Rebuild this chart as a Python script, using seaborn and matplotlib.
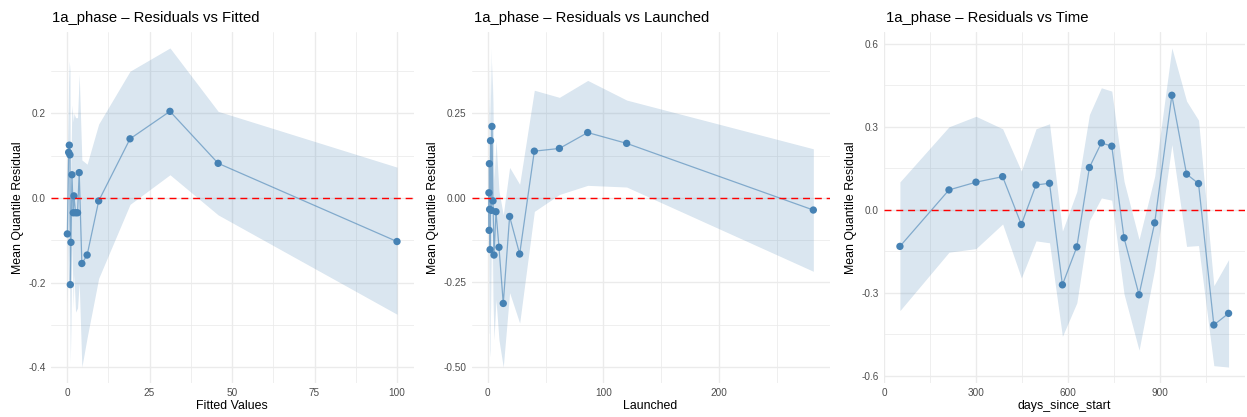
import numpy as np
import pandas as pd
import matplotlib
matplotlib.use("Agg")
import matplotlib.pyplot as plt
from matplotlib.ticker import MultipleLocator, AutoMinorLocator, FormatStrFormatter
import seaborn as sns

# ---------------- data ----------------
fit_x = [0.1, 0.5, 0.7, 0.9, 1.0, 1.2, 1.5, 1.9, 2.1, 2.6, 3.2, 3.7, 4.5, 6.1, 9.6, 19.1, 31.2, 45.8, 100.0]
fit_y = [-0.085, 0.108, 0.125, 0.102, -0.205, -0.105, 0.055, -0.035, 0.005, -0.035, -0.035, 0.060, -0.155, -0.135, -0.007, 0.140, 0.205, 0.082, -0.103]
fit_lo = [-0.25, -0.05, -0.10, -0.28, -0.39, -0.30, -0.10, -0.26, -0.18, -0.27, -0.26, -0.20, -0.40, -0.33, -0.19, -0.015, 0.055, -0.040, -0.275]
fit_hi = [0.08, 0.28, 0.324, 0.30, 0.02, 0.10, 0.22, 0.18, 0.20, 0.19, 0.19, 0.293, 0.09, 0.08, 0.175, 0.30, 0.355, 0.205, 0.073]

lau_x = [1.0, 1.2, 1.4, 1.6, 2.0, 2.4, 3.2, 3.6, 4.5, 5.4, 7.1, 9.7, 13.4, 18.9, 27.6, 40.3, 62.0, 86.5, 120.2, 281.8]
lau_y = [0.015, -0.096, 0.101, -0.034, -0.153, 0.169, -0.037, 0.211, -0.009, -0.169, -0.041, -0.146, -0.312, -0.055, -0.166, 0.138, 0.146, 0.193, 0.161, -0.036]
lau_lo = [-0.40, -0.40, -0.20, -0.45, -0.47, -0.10, -0.35, 0.00, -0.30, -0.42, -0.30, -0.42, -0.50, -0.28, -0.37, -0.04, 0.01, 0.037, 0.032, -0.217]
lau_hi = [0.30, 0.25, 0.40, 0.30, 0.20, 0.443, 0.30, 0.40, 0.28, 0.05, 0.17, 0.02, -0.05, 0.09, 0.04, 0.318, 0.297, 0.347, 0.289, 0.145]

day_x = [52, 212, 300, 387, 448, 496, 540, 582, 629, 670, 709, 743, 783, 832, 883, 939, 987, 1026, 1076, 1124]
day_y = [-0.133, 0.071, 0.099, 0.119, -0.054, 0.089, 0.095, -0.272, -0.135, 0.152, 0.241, 0.229, -0.102, -0.308, -0.048, 0.413, 0.128, 0.094, -0.417, -0.375]
day_lo = [-0.365, -0.154, -0.141, -0.052, -0.247, -0.113, -0.120, -0.458, -0.337, -0.040, 0.042, 0.034, -0.305, -0.508, -0.214, 0.235, -0.133, -0.130, -0.564, -0.569]
day_hi = [0.100, 0.299, 0.337, 0.292, 0.139, 0.292, 0.310, -0.078, 0.065, 0.343, 0.440, 0.428, 0.102, -0.108, 0.120, 0.584, 0.392, 0.323, -0.275, -0.181]

titles = ["1a_phase \u2013 Residuals vs Fitted",
          "1a_phase \u2013 Residuals vs Launched",
          "1a_phase \u2013 Residuals vs Time"]
xlabels = ["Fitted Values", "Launched", "days_since_start"]
ylabel = "Mean Quantile Residual"

# ---------------- style ----------------
sns.set_theme(style="white")
plt.rcParams['font.family'] = ['Liberation Sans', 'DejaVu Sans']
plt.rcParams['axes.unicode_minus'] = True

STEEL = "#4682B4"
GRID = "#EBEBEB"

W, H = 1247, 417
fig = plt.figure(figsize=(W / 100, H / 100), dpi=100)

panels = [
    dict(x=fit_x, y=fit_y, lo=fit_lo, hi=fit_hi, left=50.5, right=413.5, xmaj=25, ymaj=0.2, yfmt="%.1f"),
    dict(x=lau_x, y=lau_y, lo=lau_lo, hi=lau_hi, left=471.5, right=829.6, xmaj=100, ymaj=0.25, yfmt="%.2f"),
    dict(x=day_x, y=day_y, lo=day_lo, hi=day_hi, left=883.5, right=1245.0, xmaj=300, ymaj=0.3, yfmt="%.1f"),
]
top_px, bot_px = 32.0, 383.0

for i, p in enumerate(panels):
    wpx = p["right"] - p["left"]
    ax = fig.add_axes([p["left"] / W, (H - bot_px) / H,
                       wpx / W, (bot_px - top_px) / H])
    df = pd.DataFrame({"x": p["x"], "y": p["y"], "lo": p["lo"], "hi": p["hi"]})

    ax.fill_between(df["x"], df["lo"], df["hi"], color=STEEL, alpha=0.2,
                    linewidth=0, zorder=2)
    sns.lineplot(data=df, x="x", y="y", ax=ax, color=STEEL, alpha=0.6,
                 linewidth=0.9, estimator=None, zorder=3)
    sns.scatterplot(data=df, x="x", y="y", ax=ax, color=STEEL, s=28,
                    edgecolor="none", zorder=4)
    ax.axhline(0, color="#FF0000", linestyle=(0, (5, 3.5)), linewidth=1.0, zorder=5)

    # ggplot-like limits: data range with 5% expansion
    xmin, xmax = min(p["x"]), max(p["x"])
    if i == 0 or i == 1:
        xmin = min(xmin, 0)
    ymin = min(min(p["lo"]), 0)
    ymax = max(max(p["hi"]), 0)
    xr, yr = xmax - xmin, ymax - ymin
    ax.set_xlim(xmin - 0.05 * xr, xmax + 0.05 * xr)
    ax.set_ylim(ymin - 0.05 * yr, ymax + 0.05 * yr)

    ax.xaxis.set_major_locator(MultipleLocator(p["xmaj"]))
    ax.yaxis.set_major_locator(MultipleLocator(p["ymaj"]))
    ax.xaxis.set_minor_locator(AutoMinorLocator(2))
    ax.yaxis.set_minor_locator(AutoMinorLocator(2))
    ax.yaxis.set_major_formatter(FormatStrFormatter(p["yfmt"]))
    ax.xaxis.set_major_formatter(FormatStrFormatter("%d"))

    ax.grid(True, which="major", color=GRID, linewidth=1.0, zorder=0)
    ax.grid(True, which="minor", color=GRID, linewidth=0.55, zorder=0)
    ax.set_axisbelow(True)
    for s in ax.spines.values():
        s.set_visible(False)
    ax.tick_params(axis="both", which="both", length=0, labelsize=7.2,
                   labelcolor="#4D4D4D")
    ax.tick_params(axis="x", pad=3.5)
    ax.tick_params(axis="y", pad=3.5)

    ax.set_xlabel(xlabels[i], fontsize=8.9, color="black", labelpad=1.5)
    ax.set_ylabel(ylabel, fontsize=8.9, color="black", labelpad=3.0)
    ax.set_title(titles[i], loc="left", fontsize=10.7, color="black", pad=7,
                 x=2.0 / wpx)

fig.savefig("out.png", dpi=100, facecolor="white")
